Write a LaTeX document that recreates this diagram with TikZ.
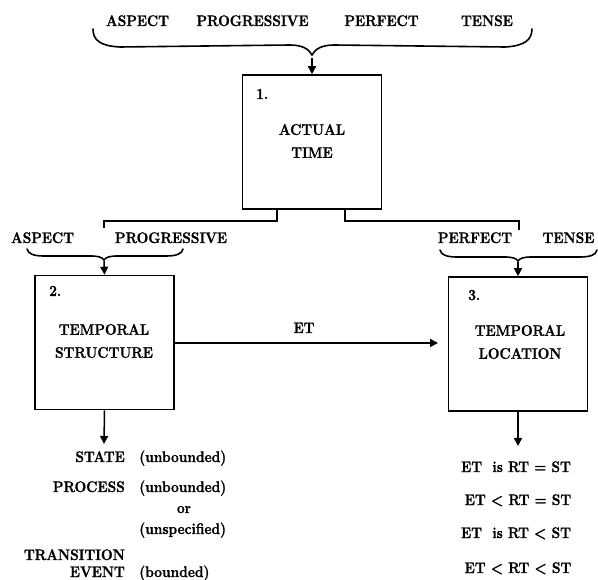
\documentclass[tikz,border=0pt]{standalone}
\usepackage{fontspec}
\setmainfont{Latin Modern Roman}[FakeStretch=0.9, BoldFeatures={FakeBold=1.2}]
\usetikzlibrary{arrows.meta}
\begin{document}
\begin{tikzpicture}[x=1pt,y=-1pt,
  every node/.style={font=\fontsize{15.3}{16}\selectfont\bfseries, inner sep=0pt},
  twoline/.style={align=center, font=\fontsize{15.3}{23}\selectfont\bfseries},
  box/.style={draw, line width=1.6pt, minimum width=139pt, minimum height=134pt},
  line/.style={line width=1.5pt},
  arr/.style={line width=1.5pt, -{Triangle[length=8pt,width=8pt]}},
  brc/.style={line width=1.6pt, line cap=round}
]
\useasboundingbox (0,0) rectangle (598,580);

% boxes
\node[box] (box1) at (312,142) {};
\node[box] (box2) at (104.5,342.5) {};
\node[box] (box3) at (518,344) {};

\node[anchor=base west] (n1) at (256,99) {1.};
\node[anchor=base west] (n2) at (49,296) {2.};
\node[anchor=base west] (n3) at (468,300) {3.};

\node[twoline] (t1) at (312,141) {ACTUAL\\TIME};
\node[twoline] (t2) at (104,341) {TEMPORAL\\STRUCTURE};
\node[twoline] (t3) at (520,342) {TEMPORAL\\LOCATION};

% top labels
\node[anchor=base] (la1) at (137.5,26) {ASPECT};
\node[anchor=base] (la2) at (252.5,26) {PROGRESSIVE};
\node[anchor=base] (la3) at (381.5,26) {PERFECT};
\node[anchor=base] (la4) at (487,26) {TENSE};

% second row labels
\node[anchor=base] (lb1) at (42.5,243) {ASPECT};
\node[anchor=base] (lb2) at (171,243) {PROGRESSIVE};
\node[anchor=base] (lb3) at (475,243) {PERFECT};
\node[anchor=base] (lb4) at (568.5,243) {TENSE};

% braces
\draw[brc] (93,29) .. controls (93,40) and (100,46) .. (120,47)
  -- (290,45) .. controls (302,45) and (309,49) .. (312,55)
  .. controls (315,49) and (322,45) .. (334,45)
  -- (505,47) .. controls (524,46) and (532,40) .. (532,29);
\coordinate (tip1) at (312,58);

\draw[brc] (27,249) .. controls (28,254) and (34,256) .. (44,256)
  -- (90,256) .. controls (98,256) and (102,257) .. (104,260)
  .. controls (106,257) and (110,256) .. (118,256)
  -- (166,256) .. controls (176,256) and (182,254) .. (183,249);
\coordinate (tip2) at (104,261);

\draw[brc] (440,250) .. controls (441,255) and (447,257) .. (457,257)
  -- (504,257) .. controls (512,257) and (516,258) .. (518,261)
  .. controls (520,258) and (524,257) .. (532,257)
  -- (580,257) .. controls (590,257) and (596,255) .. (597,250);
\coordinate (tip3) at (518,262);

\draw[arr] (tip1) -- (box1.north);
\draw[arr] (tip2) -- (box2.north);
\draw[arr] (tip3) -- (box3.north);

% elbows from box 1
\coordinate (e1) at (277,208);
\coordinate (e2) at (104,228);
\coordinate (e3) at (345,208);
\coordinate (e4) at (519,230);
\draw[line] (e1) -- (277,221) -- (104,221) -- (e2);
\draw[line] (e3) -- (345,221) -- (519,221) -- (e4);

% ET arrow
\coordinate (etend) at (438,343);
\draw[arr] (box2.east |- etend) -- (etend);
\node[anchor=base] (et) at (304,333) {ET};

% down arrows
\coordinate (d2) at (104,444);
\coordinate (d3) at (518,446);
\draw[arr] (box2.south) -- (d2);
\draw[arr] (box3.south) -- (d3);

% left list
\node[anchor=base east] (s1) at (125,462) {STATE};
\node[anchor=base west] (s1b) at (139,462) {(unbounded)};
\node[anchor=base east] (s2) at (125,492) {PROCESS};
\node[anchor=base west] (s2b) at (139,492) {(unbounded)};
\node[anchor=base] (s2c) at (184,513) {or};
\node[anchor=base west] (s2d) at (139,534) {(unspecified)};
\node[anchor=base east] (s3) at (125,560) {TRANSITION};
\node[anchor=base east] (s4) at (125,577) {EVENT};
\node[anchor=base west] (s4b) at (139,577) {(bounded)};

% right list
\node[anchor=base] (r1) at (516,472) {ET\ \ is RT = ST};
\node[anchor=base] (r2) at (518,505) {ET < RT = ST};
\node[anchor=base] (r3) at (516,538) {ET\ \ is RT < ST};
\node[anchor=base] (r4) at (518,573) {ET < RT < ST};
\end{tikzpicture}
\end{document}
